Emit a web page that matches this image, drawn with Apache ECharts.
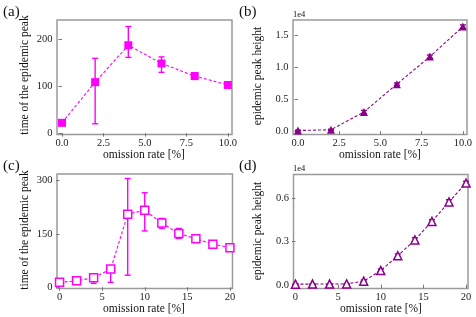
<!DOCTYPE html>
<html><head><meta charset="utf-8">
<script src="https://cdn.jsdelivr.net/npm/echarts@6/dist/echarts.min.js"></script>
<style>html,body{margin:0;padding:0;background:#fff}#c{width:476px;height:317px}</style>
</head><body><div id="c"></div>
<script>
// ---- data ----
const rateA = [0, 2, 4, 6, 8, 10];
const peakTimeA = [22, 109, 188, 149, 122, 103];
const peakTimeALow = [18, 20, 162, 130, 115, 100];
const peakTimeAHigh = [26, 160, 228, 163, 129, 106];

const peakHeightB = [100, 220, 3000, 7350, 11650, 16350];
const peakHeightBErr = [60, 80, 250, 180, 250, 250];

const rateC = [0, 2, 4, 6, 8, 10, 12, 14, 16, 18, 20];
const peakTimeC = [14, 18, 27, 51, 205, 216, 180, 151, 136, 121, 111];
const peakTimeCLow = [11, 15, 11, 14, 34, 158, 165, 137, 128, 116, 106];
const peakTimeCHigh = [17, 21, 36, 55, 305, 265, 193, 165, 143, 126, 116];

const peakHeightD = [40, 50, 50, 60, 250, 990, 2020, 3120, 4410, 5770, 7080];
const peakHeightDErr = [20, 20, 20, 20, 80, 100, 120, 150, 120, 150, 120];

const xTicksA = [0, 2.5, 5, 7.5, 10];
const yTicksA = [0, 100, 200];
const yTicksB = [0, 5000, 10000, 15000];
const xTicksC = [0, 5, 10, 15, 20];
const yTicksC = [0, 150, 300];
const yTicksD = [0, 3000, 6000];

const xTitle = 'omission rate [%]';
const yTitleTime = 'time of the epidemic peak';
const yTitleHeight = 'epidemic peak height';

const MAG = '#ff00ff', PUR = '#8b008b';
const FONT = 'Liberation Serif';

const grids = [
  {left: 57, top: 20, width: 175, height: 114.5},
  {left: 293, top: 20, width: 174, height: 114.5},
  {left: 57, top: 174, width: 175.5, height: 114.5},
  {left: 293.5, top: 174.5, width: 174.5, height: 114}
].map(g => Object.assign({show: true, borderColor: '#9a9a9a', borderWidth: 1.5, containLabel: false}, g));

function makeAxis(idx, min, max, ticks, fmt, margin) {
  return {
    type: 'value', gridIndex: idx, min, max,
    axisLine: {show: false}, splitLine: {show: false},
    axisTick: {show: true, length: 3.5, lineStyle: {color: '#777', width: 1}, customValues: ticks},
    axisLabel: {fontFamily: FONT, fontSize: 10.5, color: '#222', margin, customValues: ticks, formatter: fmt, hideOverlap: false}
  };
}
const f1 = v => Number(v).toFixed(1);
const fInt = v => String(Math.round(v));
const fE4 = v => (v / 1e4).toFixed(1);

function errSeries(idx, xs, lows, highs, color) {
  return {
    type: 'custom', xAxisIndex: idx, yAxisIndex: idx, z: 2, silent: true,
    data: xs.map((x, i) => [x, lows[i], highs[i]]),
    renderItem: function (params, api) {
      const lo = api.coord([api.value(0), api.value(1)]);
      const hi = api.coord([api.value(0), api.value(2)]);
      const w = 3;
      const st = {stroke: color, lineWidth: 1.4, fill: null};
      return {type: 'group', children: [
        {type: 'line', shape: {x1: lo[0], y1: lo[1], x2: hi[0], y2: hi[1]}, style: st},
        {type: 'line', shape: {x1: lo[0] - w, y1: lo[1], x2: lo[0] + w, y2: lo[1]}, style: st},
        {type: 'line', shape: {x1: hi[0] - w, y1: hi[1], x2: hi[0] + w, y2: hi[1]}, style: st}
      ]};
    }
  };
}
function lineSeries(idx, xs, ys, color, symbol, size, hollow) {
  return {
    type: 'line', xAxisIndex: idx, yAxisIndex: idx, z: 3,
    data: xs.map((x, i) => [x, ys[i]]),
    symbol, symbolSize: size, showSymbol: true,
    lineStyle: {color, width: 1.1, type: [3, 2]},
    itemStyle: hollow ? {color: '#fff', borderColor: color, borderWidth: 1.5} : {color, borderColor: color, borderWidth: 0},
    animation: false
  };
}
function label(text, x, y, size, rot, align) {
  return {type: 'text', x, y, rotation: rot || 0,
    style: {text, fontFamily: FONT, fontSize: size, fill: '#111', align: align || 'center', verticalAlign: 'middle'}};
}

const option = {
  animation: false,
  textStyle: {fontFamily: FONT},
  grid: grids,
  xAxis: [
    makeAxis(0, -0.3, 10.25, xTicksA, f1, 3),
    makeAxis(1, -0.3, 10.25, xTicksA, f1, 3),
    makeAxis(2, -0.3, 20.3, xTicksC, fInt, 3),
    makeAxis(3, -0.23, 20.23, xTicksC, fInt, 3)
  ],
  yAxis: [
    makeAxis(0, -3, 242, yTicksA, fInt, 4.5),
    makeAxis(1, -520, 17370, yTicksB, fE4, 4.5),
    makeAxis(2, -3.4, 317.6, yTicksC, fInt, 4.5),
    makeAxis(3, -260, 7676, yTicksD, fE4, 4.5)
  ],
  series: [
    errSeries(0, rateA, peakTimeALow, peakTimeAHigh, MAG),
    lineSeries(0, rateA, peakTimeA, MAG, 'rect', 8, false),
    errSeries(1, rateA, peakHeightB.map((v, i) => v - peakHeightBErr[i]), peakHeightB.map((v, i) => v + peakHeightBErr[i]), PUR),
    lineSeries(1, rateA, peakHeightB, PUR, 'triangle', 8, false),
    errSeries(2, rateC, peakTimeCLow, peakTimeCHigh, MAG),
    lineSeries(2, rateC, peakTimeC, MAG, 'rect', 8, true),
    errSeries(3, rateC, peakHeightD.map((v, i) => v - peakHeightDErr[i]), peakHeightD.map((v, i) => v + peakHeightDErr[i]), PUR),
    lineSeries(3, rateC, peakHeightD, PUR, 'triangle', 8, true)
  ],
  graphic: [
    label('(a)', 3, 12, 15, 0, 'left'),
    label('(b)', 239, 12, 15, 0, 'left'),
    label('(c)', 3, 166, 15, 0, 'left'),
    label('(d)', 239, 166, 15, 0, 'left'),
    label('1e4', 293, 15, 8.5, 0, 'left'),
    label('1e4', 293, 169, 8.5, 0, 'left'),
    label(xTitle, 144, 155, 11.5),
    label(xTitle, 380, 155, 11.5),
    label(xTitle, 144, 309, 11.5),
    label(xTitle, 381, 309, 11.5),
    label(yTitleTime, 25, 75, 11.5, Math.PI / 2),
    label(yTitleHeight, 258, 76, 11.5, Math.PI / 2),
    label(yTitleTime, 25, 230, 11.5, Math.PI / 2),
    label(yTitleHeight, 258, 231, 11.5, Math.PI / 2)
  ]
};
const chart = echarts.init(document.getElementById('c'));
chart.setOption(option);
</script>
</body></html>
